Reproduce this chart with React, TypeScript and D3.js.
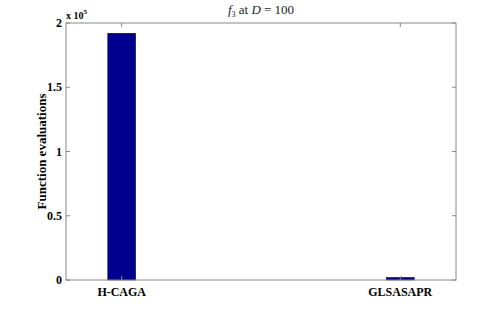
import { useEffect, useRef } from 'react';
import * as d3 from 'd3';

const categories = ['H-CAGA', 'GLSASAPR'];
const evaluations = [192000, 2000];
const yTicks = [0, 0.5, 1, 1.5, 2];

const App = () => {
  const svgRef = useRef<SVGSVGElement>(null);

  useEffect(() => {
    const svg = d3.select(svgRef.current);
    svg.selectAll('*').remove();

    const left = 66, right = 456, top = 23, bottom = 280;
    const x = d3.scaleLinear().domain([0.8, 2.2]).range([left, right]);
    const y = d3.scaleLinear().domain([0, 200000]).range([bottom, top]);
    const barW = x(1.05) - x(0.95);

    svg.append('rect').attr('width', 499).attr('height', 315).attr('fill', '#fff');

    svg.selectAll('.bar')
      .data(evaluations)
      .join('rect')
      .attr('class', 'bar')
      .attr('x', (d, i) => x(i + 1) - barW / 2)
      .attr('y', d => y(d))
      .attr('width', barW)
      .attr('height', d => bottom - y(d))
      .attr('fill', '#00008f')
      .attr('stroke', '#000')
      .attr('stroke-width', 0.5);

    // box
    svg.append('rect')
      .attr('x', left).attr('y', top)
      .attr('width', right - left).attr('height', bottom - top)
      .attr('fill', 'none').attr('stroke', '#888').attr('stroke-width', 1);

    const g = svg.append('g').attr('font-family', '"Liberation Serif", "DejaVu Serif", serif');

    // y ticks
    yTicks.forEach(t => {
      const yy = y(t * 100000);
      g.append('line').attr('x1', left).attr('x2', left + 4).attr('y1', yy).attr('y2', yy).attr('stroke', '#888');
      g.append('line').attr('x1', right).attr('x2', right - 4).attr('y1', yy).attr('y2', yy).attr('stroke', '#888');
      g.append('text')
        .attr('x', left - 4).attr('y', yy + 4)
        .attr('text-anchor', 'end')
        .attr('font-size', 12).attr('font-weight', 'bold')
        .text(String(t));
    });

    // x ticks and labels
    categories.forEach((c, i) => {
      const xx = x(i + 1);
      g.append('line').attr('x1', xx).attr('x2', xx).attr('y1', bottom).attr('y2', bottom - 4).attr('stroke', '#888');
      g.append('line').attr('x1', xx).attr('x2', xx).attr('y1', top).attr('y2', top + 4).attr('stroke', '#888');
      g.append('text')
        .attr('x', xx).attr('y', bottom + 16)
        .attr('text-anchor', 'middle')
        .attr('font-size', 12).attr('font-weight', 'bold')
        .text(c);
    });

    // exponent
    const ex = g.append('text').attr('x', left).attr('y', 19).attr('font-size', 10).attr('font-weight', 'bold');
    ex.append('tspan').text('x 10');
    ex.append('tspan').attr('dy', -5).attr('font-size', 7).text('5');

    // y label
    g.append('text')
      .attr('transform', `translate(46,${(top + bottom) / 2}) rotate(-90)`)
      .attr('text-anchor', 'middle')
      .attr('font-size', 13).attr('font-weight', 'bold')
      .text('Function evaluations');

    // title
    const title = g.append('text')
      .attr('x', (left + right) / 2).attr('y', 14)
      .attr('text-anchor', 'middle')
      .attr('font-size', 13).attr('fill', '#222');
    title.append('tspan').attr('font-style', 'italic').text('f');
    title.append('tspan').attr('dy', 3).attr('font-size', 8).text('3');
    title.append('tspan').attr('dy', -3).text(' at ');
    title.append('tspan').attr('font-style', 'italic').text('D');
    title.append('tspan').text(' = 100');
  }, []);

  return (
    <svg ref={svgRef} width={499} height={315} style={{ position: 'absolute', left: 0, top: 0 }} />
  );
};

export default App;
